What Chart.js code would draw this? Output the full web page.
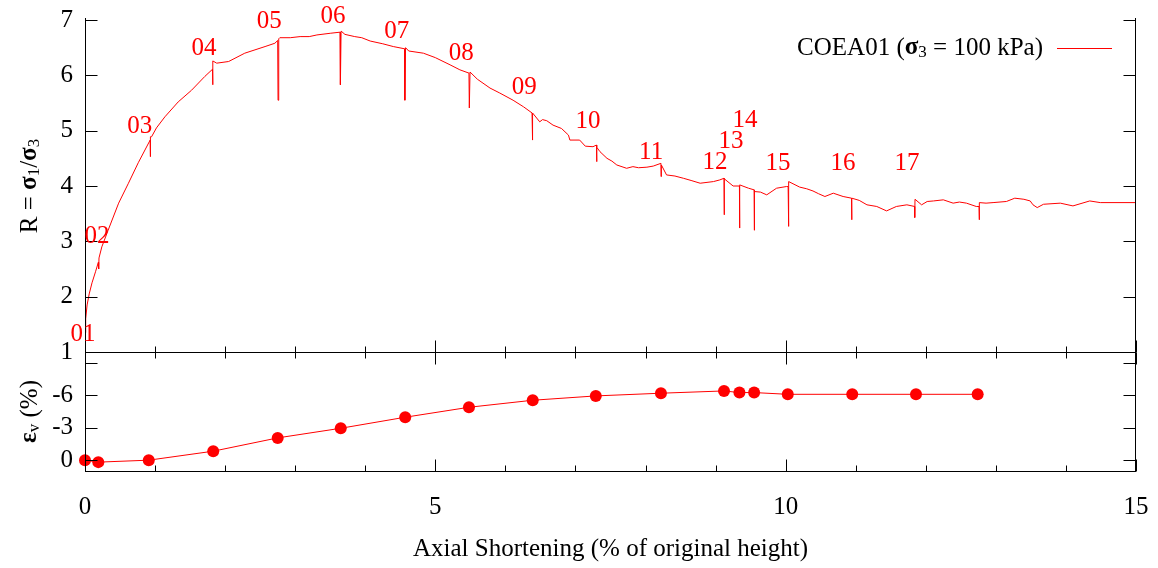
<!DOCTYPE html>
<html lang="en">
<head>
    <meta charset="UTF-8">
    <title>COEA01 triaxial test</title>
    <script src="https://cdn.jsdelivr.net/npm/chart.js"></script>
    <style>
        body { margin: 0; background: #fff; }
        .wrap { position: relative; width: 1158px; height: 568px; }
        .wrap canvas { position: absolute; left: 0; top: 0; }
    </style>
</head>
<body>
    <div class="wrap">
        <canvas id="ratioChart" width="1158" height="568"></canvas>
        <canvas id="volChart" width="1158" height="568"></canvas>
    </div>

    <script>
        // R = sigma1/sigma3 against axial shortening (%), the spikes are the unload/reload stages
        const strainR = [
            0.00, 0.01, 0.03, 0.06, 0.10, 0.15, 0.19, 0.195, 0.20, 0.24, 0.33, 0.48, 0.62, 0.76, 0.93, 0.932,
            0.935, 0.95, 1.02, 1.14, 1.33, 1.52, 1.71, 1.82, 1.822, 1.826, 1.88, 2.05, 2.28, 2.57, 2.71, 2.75,
            2.755, 2.765, 2.78, 2.93, 3.07, 3.20, 3.31, 3.50, 3.64, 3.645, 3.655, 3.71, 3.85, 3.95, 4.07, 4.25,
            4.40, 4.56, 4.565, 4.575, 4.62, 4.83, 5.00, 5.21, 5.35, 5.48, 5.485, 5.495, 5.60, 5.78, 5.92, 6.11,
            6.26, 6.38, 6.385, 6.39, 6.49, 6.53, 6.59, 6.68, 6.80, 6.90, 6.92, 7.06, 7.14, 7.25, 7.30, 7.302,
            7.306, 7.35, 7.45, 7.52, 7.59, 7.73, 7.82, 7.90, 8.02, 8.11, 8.22, 8.222, 8.226, 8.30, 8.42, 8.54,
            8.65, 8.78, 8.97, 9.06, 9.12, 9.122, 9.126, 9.25, 9.34, 9.342, 9.346, 9.47, 9.55, 9.552, 9.556, 9.64,
            9.73, 9.87, 10.01, 10.035, 10.04, 10.045, 10.20, 10.30, 10.39, 10.47, 10.56, 10.68, 10.82, 10.94, 10.942, 10.946,
            11.05, 11.16, 11.30, 11.44, 11.58, 11.73, 11.84, 11.842, 11.846, 11.94, 12.02, 12.11, 12.25, 12.39, 12.48, 12.58,
            12.72, 12.76, 12.762, 12.766, 12.86, 12.96, 13.15, 13.27, 13.40, 13.49, 13.53, 13.59, 13.68, 13.92, 14.10, 14.34,
            14.49, 15.00
        ];
        const ratioR = [
            1.35, 1.60, 1.85, 2.05, 2.25, 2.45, 2.62, 2.50, 2.70, 2.90, 3.20, 3.69, 4.05, 4.42, 4.83, 4.53,
            4.89, 4.89, 5.05, 5.25, 5.52, 5.73, 5.98, 6.11, 5.83, 6.26, 6.22, 6.25, 6.40, 6.52, 6.58, 6.63,
            5.55, 6.66, 6.68, 6.68, 6.70, 6.70, 6.73, 6.76, 6.78, 5.83, 6.80, 6.74, 6.70, 6.68, 6.62, 6.57,
            6.52, 6.48, 5.55, 6.50, 6.44, 6.40, 6.32, 6.19, 6.10, 6.04, 5.41, 6.06, 5.93, 5.77, 5.68, 5.55,
            5.43, 5.32, 4.83, 5.32, 5.16, 5.20, 5.18, 5.10, 5.04, 4.92, 4.83, 4.83, 4.72, 4.71, 4.74, 4.44,
            4.70, 4.62, 4.50, 4.45, 4.38, 4.32, 4.35, 4.33, 4.34, 4.36, 4.41, 4.17, 4.38, 4.20, 4.18, 4.14,
            4.10, 4.05, 4.08, 4.11, 4.14, 3.48, 4.13, 4.00, 4.00, 3.24, 4.02, 3.96, 3.93, 3.20, 3.90, 3.89,
            3.84, 3.96, 3.99, 3.99, 3.27, 4.08, 3.98, 3.95, 3.91, 3.86, 3.81, 3.87, 3.81, 3.78, 3.39, 3.78,
            3.74, 3.66, 3.63, 3.55, 3.63, 3.66, 3.63, 3.43, 3.76, 3.66, 3.72, 3.73, 3.75, 3.69, 3.71, 3.69,
            3.63, 3.63, 3.39, 3.70, 3.69, 3.70, 3.72, 3.78, 3.76, 3.73, 3.66, 3.61, 3.67, 3.69, 3.64, 3.73,
            3.70, 3.70
        ];

        // volumetric strain (%) measured at each stage
        const strainV = [0, 0.19, 0.91, 1.83, 2.75, 3.65, 4.57, 5.48, 6.39, 7.29, 8.22, 9.12, 9.34, 9.55, 10.03, 10.95, 11.86, 12.74];
        const volStrain = [0, 0.18, 0, -0.83, -2.06, -2.95, -3.97, -4.89, -5.54, -5.94, -6.19, -6.4, -6.25, -6.25, -6.09, -6.09, -6.09, -6.09];

        // stage numbers and where they are written (data units)
        const stageNames = ['01', '02', '03', '04', '05', '06', '07', '08', '09', '10', '11', '12', '13', '14', '15', '16', '17'];
        const stageX = [-0.03, 0.17, 0.78, 1.70, 2.63, 3.54, 4.45, 5.37, 6.27, 7.18, 8.08, 8.99, 9.22, 9.42, 9.89, 10.82, 11.73];
        const stageR = [1.31, 3.08, 5.08, 6.49, 6.98, 7.07, 6.80, 6.39, 5.79, 5.17, 4.60, 4.42, 4.80, 5.19, 4.40, 4.40, 4.40];

        const FONT = 'Liberation Serif';
        const FS = 25;
        const RED = '#ff0000';

        const normal = FS + 'px "' + FONT + '"';
        const small = '17px "' + FONT + '"';
        const sigma = 'bold ' + FS + 'px "' + FONT + '"';

        // text made of pieces (for subscripts), centred on x
        function drawRich(ctx, parts, x, y) {
            let total = 0;
            parts.forEach(p => { ctx.font = p.font; total += ctx.measureText(p.t).width; });
            let cx = x - total / 2;
            parts.forEach(p => {
                ctx.font = p.font;
                ctx.fillText(p.t, cx, y + (p.dy || 0));
                cx += ctx.measureText(p.t).width;
            });
            return total;
        }

        function ticksX(ctx, xs, y0, dir) {
            for (let v = 0; v <= 15; v++) {
                const px = Math.round(xs.getPixelForValue(v)) + 0.5;
                const len = v % 5 === 0 ? 12 : 6;
                ctx.beginPath();
                ctx.moveTo(px, y0);
                ctx.lineTo(px, y0 + dir * len);
                ctx.stroke();
            }
        }

        function ticksY(ctx, ys, vals, left, right) {
            vals.forEach(v => {
                const py = Math.round(ys.getPixelForValue(v)) + 0.5;
                ctx.beginPath();
                ctx.moveTo(left, py); ctx.lineTo(left + 12, py);
                ctx.moveTo(right, py); ctx.lineTo(right - 12, py);
                ctx.stroke();
            });
        }

        const ratioDecor = {
            id: 'ratioDecor',
            afterDraw(chart) {
                const ctx = chart.ctx;
                const a = chart.chartArea;
                const xs = chart.scales.x, ys = chart.scales.y;
                const L = Math.round(a.left) + 0.5, R = Math.round(a.right) - 0.5, B = Math.round(a.bottom) + 0.5;
                ctx.save();
                ctx.strokeStyle = '#000';
                ctx.lineWidth = 1;
                ctx.beginPath();
                ctx.moveTo(L, a.top - 2); ctx.lineTo(L, B); ctx.lineTo(R, B); ctx.lineTo(R, a.top - 2);
                ctx.stroke();
                ticksY(ctx, ys, [1, 2, 3, 4, 5, 6, 7], L, R);
                ticksX(ctx, xs, B, -1);

                // stage labels
                ctx.fillStyle = RED;
                ctx.textAlign = 'center';
                ctx.textBaseline = 'middle';
                ctx.font = normal;
                stageNames.forEach((s, i) => {
                    ctx.fillText(s, xs.getPixelForValue(stageX[i]), ys.getPixelForValue(stageR[i]));
                });

                // legend
                ctx.fillStyle = '#000';
                ctx.textAlign = 'left';
                const parts = [
                    { t: 'COEA01 (', font: normal },
                    { t: 'σ', font: sigma },
                    { t: '3', font: small, dy: 5 },
                    { t: ' = 100 kPa)', font: normal }
                ];
                let w = 0;
                parts.forEach(p => { ctx.font = p.font; w += ctx.measureText(p.t).width; });
                drawRich(ctx, parts, 1043 - w / 2, 48);
                ctx.strokeStyle = RED;
                ctx.beginPath();
                ctx.moveTo(1057, 48.5); ctx.lineTo(1112, 48.5);
                ctx.stroke();

                // y title
                ctx.translate(30, (a.top + a.bottom) / 2);
                ctx.rotate(-Math.PI / 2);
                drawRich(ctx, [
                    { t: 'R = ', font: normal },
                    { t: 'σ', font: sigma },
                    { t: '1', font: small, dy: 5 },
                    { t: '/', font: normal },
                    { t: 'σ', font: sigma },
                    { t: '3', font: small, dy: 5 }
                ], 0, 0);
                ctx.restore();
            }
        };

        const volDecor = {
            id: 'volDecor',
            afterDraw(chart) {
                const ctx = chart.ctx;
                const a = chart.chartArea;
                const xs = chart.scales.x, ys = chart.scales.y;
                const L = Math.round(a.left) + 0.5, R = Math.round(a.right) - 0.5;
                const T = Math.round(a.top) + 0.5, B = Math.round(a.bottom) + 0.5;
                ctx.save();
                ctx.strokeStyle = '#000';
                ctx.lineWidth = 1;
                ctx.strokeRect(L, T, R - L, B - T);
                ticksY(ctx, ys, [-9, -6, -3, 0], L, R);
                ticksX(ctx, xs, T, 1);
                ticksX(ctx, xs, B, -1);

                ctx.translate(30, (a.top + a.bottom) / 2);
                ctx.rotate(-Math.PI / 2);
                ctx.fillStyle = '#000';
                ctx.textAlign = 'left';
                ctx.textBaseline = 'middle';
                drawRich(ctx, [
                    { t: 'ε', font: sigma },
                    { t: 'v', font: small, dy: 5 },
                    { t: ' (%)', font: normal }
                ], 0, 0);
                ctx.restore();
            }
        };

        const tickFont = { family: FONT, size: FS };

        new Chart(document.getElementById('ratioChart'), {
            type: 'line',
            data: {
                datasets: [{
                    data: strainR.map((x, i) => ({ x: x, y: ratioR[i] })),
                    borderColor: RED,
                    borderWidth: 1,
                    pointRadius: 0,
                    tension: 0
                }]
            },
            options: {
                responsive: false,
                animation: false,
                layout: { padding: { left: 0, right: 22, top: 20, bottom: 216 } },
                plugins: { legend: { display: false }, tooltip: { enabled: false } },
                scales: {
                    x: { type: 'linear', min: 0, max: 15, display: false },
                    y: {
                        min: 1, max: 7,
                        ticks: { stepSize: 1, padding: 4, color: '#000', font: tickFont },
                        grid: { display: false },
                        border: { display: false },
                        afterFit(s) { s.width = 85; }
                    }
                }
            },
            plugins: [ratioDecor]
        });

        new Chart(document.getElementById('volChart'), {
            type: 'line',
            data: {
                datasets: [{
                    data: strainV.map((x, i) => ({ x: x, y: volStrain[i] })),
                    borderColor: RED,
                    backgroundColor: RED,
                    borderWidth: 1,
                    pointRadius: 6,
                    pointBorderWidth: 0,
                    tension: 0,
                    clip: false
                }]
            },
            options: {
                responsive: false,
                animation: false,
                layout: { padding: { left: 0, right: 22, top: 352, bottom: 0 } },
                plugins: { legend: { display: false }, tooltip: { enabled: false } },
                scales: {
                    x: {
                        type: 'linear', min: 0, max: 15,
                        ticks: { stepSize: 5, padding: 13, color: '#000', font: tickFont },
                        grid: { display: false },
                        border: { display: false },
                        title: {
                            display: true,
                            text: 'Axial Shortening (% of original height)',
                            color: '#000',
                            font: tickFont,
                            padding: { top: 0, bottom: 4 }
                        },
                        afterFit(s) { s.height = 97; s.paddingLeft = 0; s.paddingRight = 0; }
                    },
                    y: {
                        min: -10, max: 1, reverse: true,
                        afterBuildTicks(s) { s.ticks = [-9, -6, -3, 0].map(v => ({ value: v })); },
                        ticks: {
                            padding: 4, color: '#000', font: tickFont,
                            callback: v => (v === -9 ? '' : String(v))
                        },
                        grid: { display: false },
                        border: { display: false },
                        afterFit(s) { s.width = 85; }
                    }
                }
            },
            plugins: [volDecor]
        });
    </script>
</body>
</html>
